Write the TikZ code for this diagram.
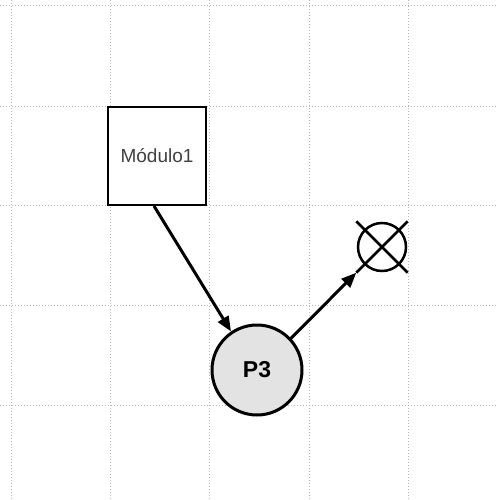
\documentclass[tikz,border=0pt]{standalone}
\usepackage{fontspec}
\setmainfont{Liberation Sans}
\usetikzlibrary{arrows.meta}
\begin{document}
\begin{tikzpicture}[x=1pt,y=-1pt,
  gridline/.style={gray!55, line width=0.7pt, dash pattern=on 1pt off 2pt},
  modbox/.style={draw=black, line width=2pt, fill=white, minimum width=98pt, minimum height=98pt, inner sep=0pt,
    font=\fontsize{19}{22}\selectfont, text=black!75},
  proc/.style={circle, draw=black, line width=3pt, fill=gray!22, minimum size=90pt, inner sep=0pt,
    font=\bfseries\fontsize{23}{26}\selectfont},
  conn/.style={line width=3pt, -{Triangle[length=15pt,width=12pt]}},
  sinkbox/.style={minimum width=51pt, minimum height=51pt, inner sep=0pt},
  sinkline/.style={line width=2.5pt}
]
\useasboundingbox (0,0) rectangle (497,500);
\fill[white] (0,0) rectangle (497,500);
% grid
\foreach \gx in {11,110,209,309,408} \draw[gridline] (\gx,0) -- (\gx,500);
\foreach \gy in {5,106,205,305,405} \draw[gridline] (0,\gy) -- (497,\gy);
% nodes
\node[modbox] (mod) at (157,156) {Módulo1};
\node[proc] (p3) at (257,370) {P3};
\node[sinkbox] (xs) at (382,247) {};
\draw[sinkline] (xs.center) circle[radius=24pt];
\draw[sinkline] (xs.north west) -- (xs.south east);
\draw[sinkline] (xs.north east) -- (xs.south west);
% connectors
\draw[conn] ([xshift=-3pt]mod.south) -- (p3.124);
\draw[conn] (p3.43) -- (xs.south west);
\end{tikzpicture}
\end{document}
